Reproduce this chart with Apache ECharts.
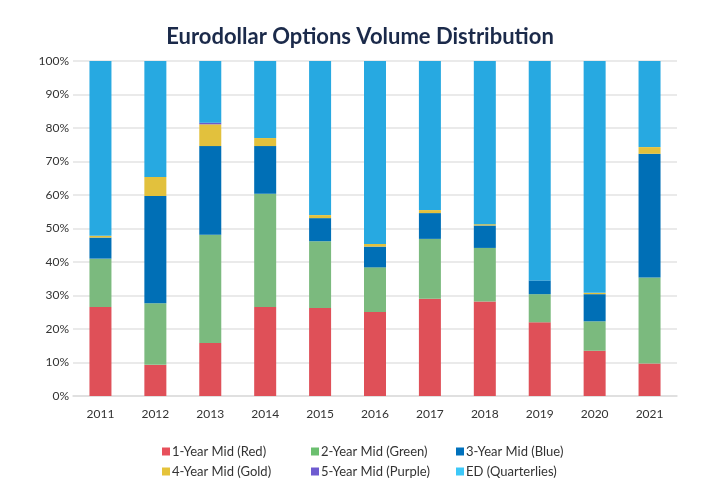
<!DOCTYPE html>
<html>
<head>
<meta charset="utf-8">
<script src="https://cdn.jsdelivr.net/npm/echarts@6/dist/echarts.min.js"></script>
<style>
  html, body { margin: 0; padding: 0; background: #fff; }
  #chart { width: 720px; height: 500px; }
</style>
</head>
<body>
<div id="chart"></div>
<script>
// 年份
const years = ['2011', '2012', '2013', '2014', '2015', '2016', '2017', '2018', '2019', '2020', '2021'];
// 各期限占比 (%)
const oneYear = [26.6, 9.3, 15.8, 26.6, 26.3, 25.1, 29.0, 28.2, 22.0, 13.5, 9.7];
const twoYear = [14.4, 18.4, 32.3, 33.8, 19.9, 13.3, 17.9, 16.0, 8.4, 8.8, 25.7];
const threeYear = [6.3, 32.0, 26.5, 14.2, 6.9, 6.2, 7.7, 6.7, 4.1, 8.1, 36.9];
const fourYear = [0.5, 5.7, 6.5, 2.4, 0.9, 0.8, 0.9, 0.4, 0.0, 0.4, 2.0];
const fiveYear = [0.0, 0.0, 0.5, 0.0, 0.0, 0.0, 0.0, 0.0, 0.0, 0.0, 0.0];
const quarterlies = [52.2, 34.6, 18.4, 23.0, 46.0, 54.6, 44.5, 48.7, 65.5, 69.2, 25.7];
const yTicks = [0, 10, 20, 30, 40, 50, 60, 70, 80, 90, 100];

const names = ['1-Year Mid (Red)', '2-Year Mid (Green)', '3-Year Mid (Blue)',
  '4-Year Mid (Gold)', '5-Year Mid (Purple)', 'ED (Quarterlies)'];
const values = [oneYear, twoYear, threeYear, fourYear, fiveYear, quarterlies];
const barColors = ['#DF5058', '#7BBA7E', '#006FB6', '#E2C13D', '#6A5ACD', '#27A9E1'];
const iconColors = ['#E8505B', '#6BBF6F', '#0071BC', '#E5C33A', '#6E5BD0', '#3DC8F8'];

const myChart = echarts.init(document.getElementById('chart'));

// 图例：三列两行
const legendPos = [[162, 445], [311, 445], [456, 445], [162, 465], [311, 465], [456, 465]];
const legends = names.map((n, i) => ({
  left: legendPos[i][0],
  top: legendPos[i][1],
  padding: 0,
  icon: 'rect',
  itemWidth: 8,
  itemHeight: 8,
  itemGap: 0,
  selectedMode: false,
  textStyle: { color: '#333', fontSize: 13, fontFamily: 'Lato', padding: [0, 0, 0, -3] },
  data: [{ name: n, itemStyle: { color: iconColors[i] } }]
}));

myChart.setOption({
  animation: false,
  title: {
    text: 'Eurodollar Options Volume Distribution',
    left: 'center',
    top: 21,
    textStyle: { color: '#1B2A4A', fontSize: 22, fontWeight: 'bold', fontFamily: 'Lato' }
  },
  legend: legends,
  grid: { left: 73, right: 43, top: 61, bottom: 104 },
  xAxis: {
    type: 'category',
    data: years,
    axisLine: { lineStyle: { color: '#DDDDDD', width: 1.5 } },
    axisTick: { show: false },
    axisLabel: { color: '#333', fontSize: 12, fontFamily: 'Lato', margin: 12 }
  },
  yAxis: {
    type: 'value',
    min: yTicks[0],
    max: yTicks[yTicks.length - 1],
    interval: 10,
    axisLine: { show: false },
    axisTick: { show: false },
    splitLine: { lineStyle: { color: '#E3E3E3', width: 1.5 } },
    axisLabel: { color: '#333', fontSize: 12, fontFamily: 'Lato', formatter: '{value}%', margin: 4 }
  },
  series: names.map((n, i) => ({
    name: n,
    type: 'bar',
    stack: 'total',
    barWidth: 22,
    itemStyle: { color: barColors[i] },
    data: values[i]
  }))
});

window.onresize = function () {
  myChart.resize();
};
</script>
</body>
</html>
